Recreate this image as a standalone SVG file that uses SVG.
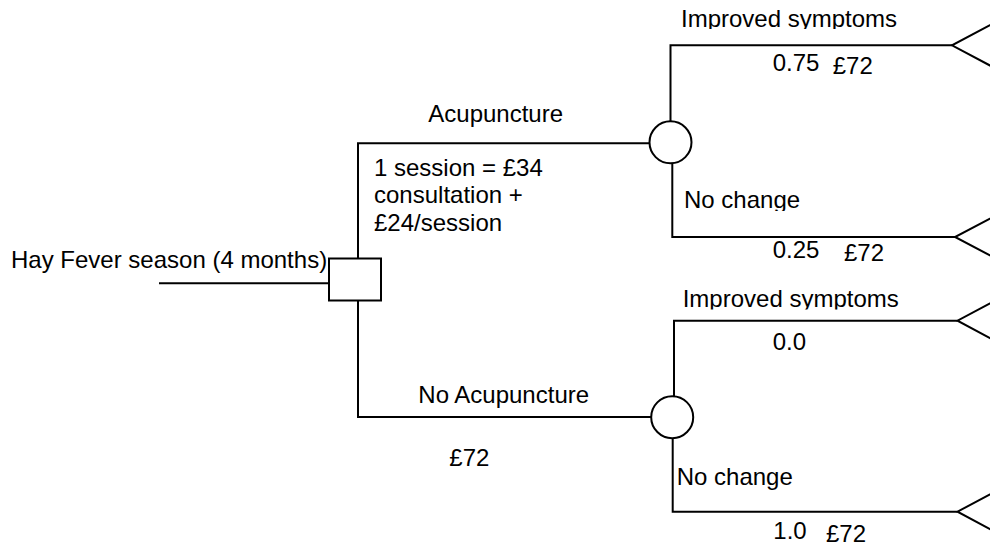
<svg xmlns="http://www.w3.org/2000/svg" width="990" height="546" viewBox="0 0 990 546">
  <style>
    .ln { fill: none; stroke: #000; stroke-width: 2; }
    .nd { fill: #fff; stroke: #000; stroke-width: 2; }
    .t { font-family: "Liberation Sans", Arial, sans-serif; font-size: 24px; fill: #000; }
  </style>
  <defs>
    <clipPath id="c1"><rect x="600" y="0" width="300" height="29"/></clipPath>
    <clipPath id="c2"><rect x="600" y="180" width="300" height="31"/></clipPath>
    <clipPath id="c3"><rect x="600" y="280" width="300" height="29.5"/></clipPath>
  </defs>
  <rect width="990" height="546" fill="#fff"/>
  <g id="connectors">
    <path class="ln" d="M159 283.3 H329"/>
    <path class="ln" d="M358 258.5 V143.3 H649.5"/>
    <path class="ln" d="M358 300.5 V417 H651"/>
    <path class="ln" d="M670.5 121.3 V45.3 H952"/>
    <path class="ln" d="M672.3 163.5 V237 H955"/>
    <path class="ln" d="M674 396 V320.7 H957.5"/>
    <path class="ln" d="M672.7 438.4 V511.7 H957.5"/>
  </g>
  <g id="decision">
    <rect class="nd" x="329" y="258.5" width="52" height="42"/>
  </g>
  <g id="chance-acupuncture">
    <circle class="nd" cx="670.5" cy="142.3" r="21"/>
  </g>
  <g id="chance-no-acupuncture">
    <circle class="nd" cx="672.2" cy="417.2" r="21"/>
  </g>
  <g id="terminal-1"><path class="ln" d="M1009 15 L952 45.3 L1009 75.6"/></g>
  <g id="terminal-2"><path class="ln" d="M1012 207 L955 237 L1012 267"/></g>
  <g id="terminal-3"><path class="ln" d="M1014 290.4 L957.5 320.7 L1014 351"/></g>
  <g id="terminal-4"><path class="ln" d="M1014 481.4 L957.5 511.7 L1014 542"/></g>
  <g id="labels">
    <text class="t" x="11" y="268.3">Hay Fever season (4 months)</text>
    <text class="t" x="428.3" y="121.7">Acupuncture</text>
    <text class="t" x="374" y="176">1 session = £34</text>
    <text class="t" x="374" y="203.3">consultation +</text>
    <text class="t" x="374" y="230.6">£24/session</text>
    <text class="t" x="418.3" y="402.7">No Acupuncture</text>
    <text class="t" x="449.3" y="466">£72</text>
    <text class="t" x="681" y="27" clip-path="url(#c1)">Improved symptoms</text>
    <text class="t" x="772.7" y="71">0.75</text>
    <text class="t" x="832.7" y="74">£72</text>
    <text class="t" x="684" y="208.3" clip-path="url(#c2)">No change</text>
    <text class="t" x="772.7" y="258.3">0.25</text>
    <text class="t" x="844" y="261">£72</text>
    <text class="t" x="682.7" y="307.3" clip-path="url(#c3)">Improved symptoms</text>
    <text class="t" x="772.7" y="350">0.0</text>
    <text class="t" x="676.7" y="485">No change</text>
    <text class="t" x="773.3" y="539.3">1.0</text>
    <text class="t" x="826" y="541.7">£72</text>
  </g>
</svg>
